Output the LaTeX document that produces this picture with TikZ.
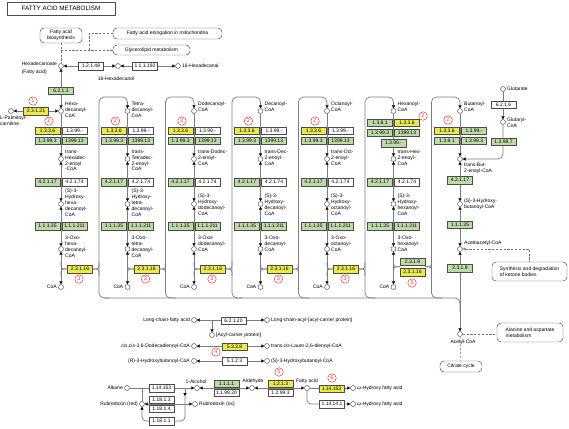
\documentclass[tikz,border=0pt]{standalone}
\usepackage{fontspec}
\setmainfont{Liberation Sans}
\usetikzlibrary{arrows.meta}

\definecolor{enzgreen}{HTML}{BDDBA9}
\definecolor{enzyellow}{HTML}{EAEA4E}
\definecolor{flowgray}{HTML}{7C7C7C}
\definecolor{markred}{HTML}{E0352E}

\newcommand{\keggsize}{\fontsize{5}{5.8}\selectfont}

\tikzset{
  kt/.tip={Triangle[length=3pt,width=3.2pt,color=black]},
  enz/.style={draw=black!70, line width=0.45pt, minimum width=25pt, minimum height=7.5pt, inner sep=0pt, font=\keggsize},
  genz/.style={enz, fill=enzgreen},
  yenz/.style={enz, fill=enzyellow},
  wenz/.style={enz, fill=white},
  cpd/.style={circle, draw=black!70, line width=0.45pt, minimum size=5pt, inner sep=0pt, fill=white},
  cpdname/.style={font=\keggsize, align=left, inner sep=0pt},
  mapname/.style={draw=black!70, line width=0.45pt, rounded corners=4pt, font=\keggsize, inner sep=1.5pt},
  stepno/.style={circle, draw=markred, text=markred, line width=0.45pt, minimum size=8.5pt, inner sep=0pt, font=\fontsize{5.5}{6}\selectfont},
  flow/.style={draw=flowgray, line width=0.7pt},
  oneway/.style={flow, -kt},
  twoway/.style={flow, kt-kt},
  maplink/.style={draw=black!55, line width=0.5pt, dash pattern=on 2.2pt off 1.6pt},
}

\begin{document}
\begin{tikzpicture}[x=1pt, y=-1pt]
\useasboundingbox (0,0) rectangle (569,428);

% Title
\node[draw=black!70, line width=0.5pt, minimum width=108pt, minimum height=13pt, inner sep=0pt, font=\fontsize{6.3}{7}\selectfont] (title) at (61,8.5) {FATTY ACID METABOLISM};

% Compounds of the columns
\foreach \col/\xc in {1/61,2/127.5,3/194,4/260.5,5/327,6/393.5,7/460} {
  \node[cpd] (a\col) at (\xc,111) {};
  \node[cpd] (e\col) at (\xc,159) {};
  \node[cpd] (h\col) at (\xc,204) {};
  \node[cpd] (o\col) at (\xc,249) {};
}
\foreach \col/\xc in {1/61,2/127.5,3/194,4/260.5,5/327,6/393.5}
  \node[cpd] (k\col) at (\xc,287) {};

% Other compounds
\node[cpd] (hdca) at (61,66) {};
\node[cpd] (hdol) at (118,66) {};
\node[cpd] (hdal) at (178,66) {};
\node[cpd] (lpc) at (11,111) {};
\node[cpd] (glut) at (503,89) {};
\node[cpd] (glcoa) at (503,122) {};
\node[cpd] (acoa) at (460,334) {};
\node[cpd] (lcfa) at (194,320) {};
\node[cpd] (lcacp) at (267,320) {};
\node[cpd] (acp) at (212,335) {};
\node[cpd] (ccdd) at (194,346) {};
\node[cpd] (tcld) at (267,346) {};
\node[cpd] (rhb) at (194,361) {};
\node[cpd] (shb) at (267,361) {};
\node[cpd] (alk) at (127,388) {};
\node[cpd] (alc) at (197,388) {};
\node[cpd] (ald) at (252,388) {};
\node[cpd] (fa) at (307,388) {};
\node[cpd] (wh1) at (353,388) {};
\node[cpd] (wh2) at (353,404) {};
\node[cpd] (rdr) at (142,404) {};
\node[cpd] (rdo) at (195,404) {};

% Map links
\node[mapname, align=center, minimum width=42pt, minimum height=15pt] (fab) at (61,35.5) {Fatty acid\\biosynthesis};
\node[mapname, minimum width=109pt, minimum height=11pt] (elong) at (167.5,33.5) {Fatty acid elongation in mitochondria};
\node[mapname, minimum width=77pt, minimum height=10pt] (glyc) at (151.5,50) {Glycerolipid metabolism};
\node[mapname, align=left, minimum width=75pt, minimum height=19pt] (keto) at (529.5,271.5) {Synthesis and degradation\\of ketone bodies};
\node[mapname, align=left, minimum width=66pt, minimum height=19pt] (alasp) at (530,332.5) {Alanine and aspartate\\metabolism};
\node[mapname, minimum width=42pt, minimum height=11pt] (tca) at (461,366.5) {Citrate cycle};

\coordinate (glyj) at (61,50);
\coordinate (elj) at (89,50);
\draw[maplink] (fab) -- (hdca);
\draw[maplink] (glyj) -- (glyc);
\draw[maplink] (elj) |- (elong);
\draw[maplink, {Triangle[open,length=3pt,width=3pt]}-] (o7) -| (keto);
\draw[maplink] (acoa) -- (acoa -| alasp.west);
\draw[maplink] (acoa) -- (tca);

% Reactions
\draw[twoway] (hdca) -- (hdol);
\draw[twoway] (hdol) -- (hdal);
\draw[twoway] (hdca) -- (a1);
\draw[twoway] (lpc) -- (a1);
\foreach \col in {1,...,7} {
  \draw[oneway] (a\col) -- (e\col);
  \draw[twoway] (e\col) -- (h\col);
  \draw[twoway] (h\col) -- (o\col);
}
\foreach \col in {1,...,6} \draw[twoway] (o\col) -- (k\col);
\draw[twoway] (o7) -- (acoa);
\foreach \col/\xc in {2/127.5,3/194,4/260.5,5/327,6/393.5,7/460}
  \draw[oneway, rounded corners=5pt] (\xc-18,298) -| (\xc-28.5,97) -| (a\col);
\draw[flow, rounded corners=5pt] (104,298) -| (460,312);
\draw[oneway] (glut) -- (glcoa);
\draw[oneway, rounded corners=5pt] (glcoa) |- (e7);

\draw[twoway] (lcfa) -- (lcacp);
\coordinate (acpj) at (212,320);
\draw[oneway] (acpj) -- (acp);
\draw[twoway] (ccdd) -- (tcld);
\draw[twoway] (rhb) -- (shb);

\draw[oneway] (alk) -- (alc);
\draw[twoway] (rdr) -- (rdo);
\coordinate (rdj1) at (142,388);
\coordinate (rdj2) at (185,388);
\coordinate (rdj3) at (185,396);
\draw[flow] (rdj1) -- (rdr);
\draw[oneway] (rdj2) -- (rdj3);
\draw[oneway, rounded corners=4pt] (rdj3) |- (142,421) -- (rdr);
\draw[twoway] (alc) -- (ald);
\draw[twoway] (ald) -- (fa);
\draw[oneway] (fa) -- (wh1);
\draw[oneway, rounded corners=4pt] (fa) |- (wh2);

% Enzymes
\node[genz] (e6213) at (61,90.5) {6.2.1.3};
\node[wenz] (e12148) at (91,66) {1.2.1.48};
\node[wenz] (e111192) at (145,66) {1.1.1.192};
\node[yenz] (e23121) at (36,111) {2.3.1.21};
\foreach \col/\xc in {1/61,2/127.5,3/194,4/260.5,5/327} {
  \node[yenz] (ox\col) at (\xc-13.5,130.5) {1.3.3.6};
  \node[wenz] (dh\col) at (\xc+13.5,130.5) {1.3.99.-};
  \node[genz] (ad\col) at (\xc-13.5,140.5) {1.3.99.3};
  \node[genz] (vl\col) at (\xc+13.5,140.5) {1399.13};
  \node[genz] (hy\col) at (\xc-13.5,182) {4.2.1.17};
  \node[wenz] (hl\col) at (\xc+13.5,182) {4.2.1.74};
  \node[genz] (hd\col) at (\xc-13.5,226) {1.1.1.35};
  \node[genz] (hh\col) at (\xc+13.5,226) {1.1.1.211};
  \node[yenz] (th\col) at (\xc+19,269) {2.3.1.16};
  \draw[flow] (\xc,262) .. controls (\xc,269) .. (th\col.west);
  \draw[flow] (\xc,276) .. controls (\xc,269) .. (th\col.west);
  \draw[flow] (th\col.east) .. controls (\xc+38,269) .. (\xc+38,262);
  \draw[flow] (th\col.east) .. controls (\xc+38,269) .. (\xc+38,276);
  \node[stepno] (rb\col) at (\xc-12,121) {2};
  \node[stepno] (rc\col) at (\xc+18,279) {3};
}
% Hexanoyl column
\node[genz] (ad6a) at (380,122.5) {1.3.8.1};
\node[yenz] (ox6) at (407,122.5) {1.3.3.6};
\node[genz] (ad6) at (380,132.5) {1.3.99.3};
\node[genz] (vl6) at (407,132.5) {1399.13};
\node[genz] (dh6) at (393.5,143) {1.3.99.-};
\node[genz] (hy6) at (380,182) {4.2.1.17};
\node[wenz] (hl6) at (407,182) {4.2.1.74};
\node[genz] (hd6) at (380,226) {1.1.1.35};
\node[genz] (hh6) at (407,226) {1.1.1.211};
\node[genz] (ka6) at (412.5,261.5) {2.3.1.9};
\node[yenz] (th6) at (412.5,272) {2.3.1.16};
\coordinate (j6l) at (400,266.75);
\coordinate (j6r) at (425,266.75);
\draw[flow] (393.5,260) .. controls (393.5,266.75) .. (j6l);
\draw[flow] (393.5,273.5) .. controls (393.5,266.75) .. (j6l);
\draw[flow] (j6r) .. controls (431.5,266.75) .. (431.5,260);
\draw[flow] (j6r) .. controls (431.5,266.75) .. (431.5,273.5);
\node[stepno] (rb6) at (423,116) {2};
\node[stepno] (rc6) at (412,283) {3};
% Butanoyl column
\node[yenz] (ox7) at (447,130.5) {1.3.3.6};
\node[genz] (dh7) at (474,130.5) {1.3.99.-};
\node[genz] (ad7a) at (447,140.5) {1.3.8.1};
\node[genz] (ad7) at (474,140.5) {1.3.99.3};
\node[genz] (hy7) at (460,180) {4.2.1.17};
\node[genz] (hd7) at (460,224.5) {1.1.1.35};
\node[genz] (ka7) at (460,268) {2.3.1.9};
\node[stepno] (rb7) at (448,120) {2};
\node[wenz] (e6216) at (503.5,104.5) {6.2.1.6};
\node[genz] (e139907) at (503.5,141.5) {1.3.99.7};
% Other reactions
\node[wenz] (e62120) at (233.5,320.5) {6.2.1.20};
\node[yenz] (e5338) at (234.5,346.5) {5.3.3.8};
\node[wenz] (e5123) at (234.5,361) {5.1.2.3};
\node[wenz] (e114153) at (161.5,388) {1.14.153};
\node[wenz] (e11813) at (161.5,399.7) {1.18.1.3};
\node[wenz] (e11814) at (161.5,408.5) {1.18.1.4};
\node[wenz] (e11811) at (161.5,421) {1.18.1.1};
\node[genz] (e1111) at (226.5,383.5) {1.1.1.1};
\node[wenz] (e119920) at (226.5,392.5) {1.1.99.20};
\node[yenz] (e1213) at (280.5,383.5) {1.2.1.3};
\node[wenz] (e12993) at (280.5,392.5) {1.2.99.3};
\node[yenz] (e114153b) at (331.5,388.5) {1.14.153};
\node[wenz] (e114141) at (332,404) {1.14.14.1};
\node[stepno] (ra) at (33,101) {1};
\node[stepno] (rd) at (216,352) {4};
\node[stepno] (re) at (279,372) {5};
\node[stepno] (rf) at (332,378) {6};

% Compound names
\foreach \col/\xc/\tacyl/\tenoyl/\thydr/\ytop/\toxo in {
  1/61/{Hexa-\\decanoyl-\\CoA}/{trans-\\Hexadec-\\2-enoyl\\-CoA}/{(S)-3-\\Hydroxy-\\hexa-\\decanoyl-\\CoA}/189/{3-Oxo-\\hexa-\\decanoyl-\\CoA},
  2/127.5/{Tetra-\\decanoyl-\\CoA}/{trans-\\Tetradec-\\2-enoyl-\\CoA}/{(S)-3-\\Hydroxy-\\tetra-\\decanoyl-\\CoA}/189/{3-Oxo-\\tetra-\\decanoyl-\\CoA},
  3/194/{Dodecanoyl-\\CoA}/{trans-Dodec-\\2-enoyl-\\CoA}/{(S)-3-\\Hydroxy-\\dodecanoyl-\\CoA}/194/{3-Oxo-\\dodecanoyl-\\CoA},
  4/260.5/{Decanoyl-\\CoA}/{trans-Dec-\\2-enoyl-\\CoA}/{(S)-3-\\Hydroxy-\\decanoyl-\\CoA}/194/{3-Oxo-\\decanoyl-\\CoA},
  5/327/{Octanoyl-\\CoA}/{trans-Oct-\\2-enoyl-\\CoA}/{(S)-3-\\Hydroxy-\\octanoyl-\\CoA}/194/{3-Oxo-\\octanoyl-\\CoA},
  6/393.5/{Hexanoyl-\\CoA}/{trans-Hex-\\2-enoyl-\\CoA}/{(S)-3-\\Hydroxy-\\hexanoyl-\\CoA}/194/{3-Oxo-\\hexanoyl-\\CoA}} {
  \node[cpdname, anchor=north west] (la\col) at (\xc+4,102) {\tacyl};
  \node[cpdname, anchor=north west] (le\col) at (\xc+4,150) {\tenoyl};
  \node[cpdname, anchor=north west] (lh\col) at (\xc+4,\ytop) {\thydr};
  \node[cpdname, anchor=north west] (lo\col) at (\xc+4,236) {\toxo};
  \node[cpdname, anchor=east] (lk\col) at (\xc-4,287) {CoA};
}
\node[cpdname, anchor=north west] (la7) at (464,102) {Butanoyl-\\CoA};
\node[cpdname, anchor=north west] (le7) at (464,163) {trans-But-\\2-enoyl-CoA};
\node[cpdname, anchor=north west] (lh7) at (464,199) {(S)-3-Hydroxy-\\butanoyl-CoA};
\node[cpdname, anchor=south west] (lo7) at (464,246) {Acetoacetyl-CoA};
\node[cpdname, anchor=north] (lacoa) at (463,340) {Acetyl-CoA};
\node[cpdname, anchor=north east] (lhdca) at (57,62) {Hexadecanoate\\[2pt](Fatty acid)};
\node[cpdname, anchor=north] (lhdol) at (116,76.5) {16-Hexadecanol};
\node[cpdname, anchor=west] (lhdal) at (182,66) {16-Hexadecanal};
\node[cpdname, anchor=north west] (llpc) at (0,116) {L-Palmitoyl-\\carnitine};
\node[cpdname, anchor=west] (lglut) at (507,89) {Glutarate};
\node[cpdname, anchor=north west] (lglcoa) at (507,118) {Glutaryl-\\CoA};
\node[cpdname, anchor=east] (llcfa) at (190,320) {Long-chain-fatty acid};
\node[cpdname, anchor=west] (llcacp) at (271,320) {Long-chain-acyl-[acyl-carrier protein]};
\node[cpdname, anchor=west] (lacp) at (216,335) {[Acyl-carrier protein]};
\node[cpdname, anchor=east] (lccdd) at (190,346) {cis,cis-3,6-Dodecadienoyl-CoA};
\node[cpdname, anchor=west] (ltcld) at (271,346) {trans,cis-Lauro-2,6-dienoyl-CoA};
\node[cpdname, anchor=east] (lrhb) at (190,361) {(R)-3-Hydroxybutanoyl-CoA};
\node[cpdname, anchor=west] (lshb) at (271,361) {(S)-3-Hydroxybutanoyl-CoA};
\node[cpdname, anchor=east] (lalk) at (123,388) {Alkane};
\node[cpdname, anchor=south] (lalc) at (196,384) {1-Alcohol};
\node[cpdname, anchor=south] (lald) at (253,384) {Aldehyde};
\node[cpdname, anchor=south] (lfa) at (307,384) {Fatty acid};
\node[cpdname, anchor=west] (lwh1) at (357,388) {ω-Hydroxy fatty acid};
\node[cpdname, anchor=west] (lwh2) at (357,404) {ω-Hydroxy fatty acid};
\node[cpdname, anchor=east] (lrdr) at (138,404) {Rubredoxin (red)};
\node[cpdname, anchor=west] (lrdo) at (199,404) {Rubredoxin (ox)};
\end{tikzpicture}
\end{document}
